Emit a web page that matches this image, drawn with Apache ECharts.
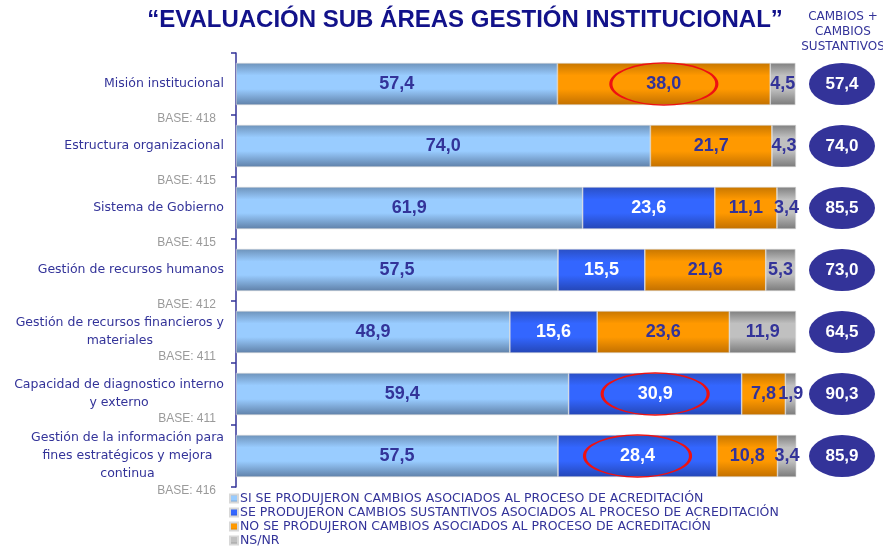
<!DOCTYPE html>
<html>
<head>
<meta charset="utf-8">
<style>
  html, body { margin: 0; padding: 0; background: #fff; }
  #chart { width: 883px; height: 548px; }
</style>
<script src="https://cdn.jsdelivr.net/npm/echarts@6/dist/echarts.min.js"></script>
</head>
<body>
<div id="chart"></div>
<script>
const categories = [
  'Misión institucional',
  'Estructura organizacional',
  'Sistema de Gobierno',
  'Gestión de recursos humanos',
  'Gestión de recursos financieros y\nmateriales',
  'Capacidad de diagnostico interno\ny externo',
  'Gestión de la información para\nfines estratégicos y mejora\ncontinua'
]
const bases = [418, 415, 415, 412, 411, 411, 416]

const siCambios = [57.4, 74.0, 61.9, 57.5, 48.9, 59.4, 57.5]
const sustantivos = [0, 0, 23.6, 15.5, 15.6, 30.9, 28.4]
const noCambios = [38.0, 21.7, 11.1, 21.6, 23.6, 7.8, 10.8]
const nsnr = [4.5, 4.3, 3.4, 5.3, 11.9, 1.9, 3.4]
const cambiosTotal = [57.4, 74.0, 85.5, 73.0, 64.5, 90.3, 85.9]

const seriesNames = [
  'SI SE PRODUJERON CAMBIOS ASOCIADOS AL PROCESO DE ACREDITACIÓN',
  'SE PRODUJERON CAMBIOS SUSTANTIVOS ASOCIADOS AL PROCESO DE ACREDITACIÓN',
  'NO SE PRODUJERON CAMBIOS ASOCIADOS AL PROCESO DE ACREDITACIÓN',
  'NS/NR'
]
// [row, series index] of the segments circled in red
const highlights = [[0, 2], [5, 1], [6, 1]]

const navy = '#333399'
const fmt = v => (v ? v.toFixed(1).replace('.', ',') : '')

function shade(edgeTop, mid, edgeBottom) {
  return new echarts.graphic.LinearGradient(0, 0, 0, 1, [
    { offset: 0, color: edgeTop },
    { offset: 0.3, color: mid },
    { offset: 0.62, color: mid },
    { offset: 1, color: edgeBottom }
  ])
}

const segLabel = {
  show: true,
  position: 'inside',
  formatter: p => fmt(p.value),
  color: navy,
  fontFamily: 'Liberation Sans',
  fontWeight: 'bold',
  fontSize: 18
}

const allValues = [siCambios, sustantivos, noCambios, nsnr]
const fills = [
  shade('#6d92ba', '#99ccff', '#5f80a8'),
  shade('#2a4fc4', '#3366ff', '#2446b6'),
  shade('#c77600', '#ff9900', '#c27000'),
  shade('#7f7f7f', '#c0c0c0', '#7a7a7a')
]

const barSeries = allValues.map((vals, k) => ({
  name: seriesNames[k],
  type: 'bar',
  stack: 'total',
  barWidth: '68%',
  data: vals,
  itemStyle: { color: fills[k], borderColor: '#d8d8d8', borderWidth: 0.6 },
  label: k === 1 ? { ...segLabel, color: '#fff' } : segLabel,
  emphasis: { disabled: true }
}))

// centre of each circled segment, taken from the stacked values
const ringData = highlights.map(([row, s]) => {
  let start = 0
  for (let k = 0; k < s; k++) start += allValues[k][row]
  return [start + allValues[s][row] / 2, row]
})

const lineCount = t => t.split('\n').length

const catFont = { color: navy, fontFamily: 'DejaVu Sans', fontSize: 12.5, lineHeight: 18 }
const labelGap = 12

// multi-line names have their lines centred under the longest one, so each of
// them gets its own hidden axis whose label is centred at the block's middle
const ctx = document.createElement('canvas').getContext('2d')
ctx.font = '12.5px "DejaVu Sans"'
const blockWidth = t => Math.max(...t.split('\n').map(l => ctx.measureText(l).width))

const multiAxes = []
categories.forEach((c, i) => {
  if (lineCount(c) < 2) return
  multiAxes.push({
    type: 'category',
    inverse: true,
    gridIndex: 0,
    position: 'left',
    data: categories,
    axisLine: { show: false },
    axisTick: { show: false },
    axisLabel: {
      ...catFont,
      align: 'center',
      margin: labelGap + blockWidth(c) / 2,
      formatter: (t, k) => (k === i ? t : '')
    }
  })
})

const chart = echarts.init(document.getElementById('chart'))
chart.setOption({
  animation: false,
  title: [
    {
      text: '“EVALUACIÓN SUB ÁREAS GESTIÓN INSTITUCIONAL”',
      left: 460,
      top: 3,
      textAlign: 'center',
      textStyle: {
        color: '#12128a',
        fontFamily: 'Liberation Sans',
        fontWeight: 'bold',
        fontSize: 24
      }
    },
    {
      text: 'CAMBIOS +\nCAMBIOS\nSUSTANTIVOS',
      left: 838,
      top: 4,
      textAlign: 'center',
      textStyle: {
        color: navy,
        fontFamily: 'DejaVu Sans',
        fontWeight: 'normal',
        fontSize: 12,
        lineHeight: 15
      }
    }
  ],
  legend: {
    orient: 'vertical',
    left: 229,
    top: 492,
    padding: 0,
    icon: 'rect',
    itemWidth: 8,
    itemHeight: 8,
    itemGap: 1,
    selectedMode: false,
    data: seriesNames,
    textStyle: {
      color: navy,
      fontFamily: 'DejaVu Sans',
      fontSize: 12.5,
      lineHeight: 13,
      padding: [0, 0, 0, -3]
    }
  },
  grid: [
    { left: 236, right: 87, top: 53, bottom: 61 },
    { left: 809, width: 66, top: 53, bottom: 61 }
  ],
  xAxis: [
    { type: 'value', min: 0, max: 100, show: false, gridIndex: 0 },
    { type: 'value', min: -1, max: 1, show: false, gridIndex: 1 }
  ],
  yAxis: [
    {
      type: 'category',
      inverse: true,
      gridIndex: 0,
      data: categories,
      axisLine: { lineStyle: { color: navy, width: 1.5 } },
      axisTick: { show: true, length: 5, lineStyle: { color: navy, width: 1.5 } },
      axisLabel: {
        ...catFont,
        margin: labelGap,
        align: 'right',
        formatter: t => (lineCount(t) === 1 ? t : '')
      }
    },
    {
      type: 'category',
      inverse: true,
      gridIndex: 1,
      data: categories,
      show: false
    },
    {
      type: 'category',
      inverse: true,
      gridIndex: 0,
      position: 'left',
      data: bases.map(b => 'BASE: ' + b),
      axisLine: { show: false },
      axisTick: { show: false },
      axisLabel: {
        margin: 20,
        // an empty first line pushes the base count down under its category
        formatter: (v, i) =>
          '{' + (lineCount(categories[i]) === 2 ? 's2' : 's3') + '| }\n{b|' + v + '}',
        rich: {
          s2: { lineHeight: 50, fontSize: 1 },
          s3: { lineHeight: 70, fontSize: 1 },
          b: { color: '#9a9a9a', fontFamily: 'Liberation Sans', fontSize: 12, lineHeight: 14 }
        }
      }
    },
    ...multiAxes
  ],
  series: [
    ...barSeries,
    {
      name: 'rings',
      type: 'scatter',
      xAxisIndex: 0,
      yAxisIndex: 0,
      data: ringData,
      symbol: 'circle',
      symbolSize: [106, 42],
      silent: true,
      z: 5,
      itemStyle: { color: 'rgba(0,0,0,0)', borderColor: '#ee1111', borderWidth: 2, opacity: 1 }
    },
    {
      name: 'total',
      type: 'scatter',
      xAxisIndex: 1,
      yAxisIndex: 1,
      data: cambiosTotal.map((v, i) => [0, i, v]),
      symbol: 'circle',
      symbolSize: [66, 42],
      silent: true,
      itemStyle: { color: navy, opacity: 1 },
      label: {
        show: true,
        position: 'inside',
        formatter: p => fmt(p.value[2]),
        color: '#fff',
        fontFamily: 'Liberation Sans',
        fontWeight: 'bold',
        fontSize: 17
      }
    }
  ]
})
</script>
</body>
</html>
